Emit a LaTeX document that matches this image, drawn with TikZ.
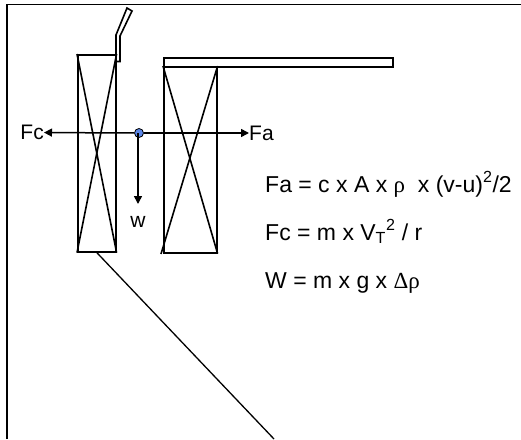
\documentclass[tikz,border=0pt]{standalone}
\usepackage{fontspec}
\setmainfont{Liberation Sans}
\newfontfamily\greekfont{Liberation Serif}
\usetikzlibrary{arrows.meta,positioning}
\definecolor{pblue}{HTML}{5B86E8}
\newcommand{\grk}[1]{{\greekfont#1}}
\tikzset{
  coil/.style={draw,line width=1.6pt,inner sep=0pt,anchor=north west},
  stroke/.style={line width=1.6pt},
  force/.style={line width=1.5pt,-{Triangle[length=8pt,width=8pt]}},
  label/.style={font=\fontsize{21}{24}\selectfont,inner sep=0pt},
  formula/.style={font=\fontsize{23}{26}\selectfont,inner sep=0pt,anchor=base west}
}
\begin{document}
\begin{tikzpicture}[x=1pt,y=-1pt]
  \useasboundingbox (0,0) rectangle (521,439);
  % frame
  \draw[stroke] (7,439) -- (7,4.5) -- (521,4.5);
  % coils
  \node[coil,minimum width=38pt,minimum height=197pt] (lcoil) at (77,54) {};
  \node[coil,minimum width=53pt,minimum height=186pt] (rcoil) at (163,66) {};
  \draw[stroke] (lcoil.north west) -- (lcoil.south east);
  \draw[stroke] (lcoil.north east) -- (lcoil.south west);
  \draw[stroke] (rcoil.north west) -- (rcoil.south east);
  \draw[stroke] (rcoil.north east) -- (161,254);
  % top bar and tube
  \node[coil,minimum width=229pt,minimum height=9pt] (bar) at (163,57) {};
  \draw[stroke] (116,61.5) -- (120,61.5) -- (120,36) -- (132,11) -- (127,8) -- (116,35) -- cycle;
  % tail
  \coordinate (tail) at (274,439);
  \draw[line width=1.3pt] (lcoil.south) -- (tail);
  % forces
  \node[circle,draw,line width=0.8pt,fill=pblue,minimum size=9pt,inner sep=0pt] (dot) at (139,133) {};
  \node[label,anchor=east] (fc) at (44,132.5) {Fc};
  \node[label,anchor=west] (fa) at (249,133) {Fa};
  \node[label,anchor=north,inner ysep=12pt] (w) at (138,204) {w};
  \draw[force] (dot) -- (fc);
  \draw[force] (dot) -- (fa);
  \draw[force] (138,133) -- (w);
  % formulas
  \node[formula] (eqa) at (265,192) {Fa = c x A x \grk{ρ}\ \ x (v-u)\textsuperscript{2}/2};
  \node[formula] (eqc) at (265,240) {Fc = m x V\textsubscript{T}\textsuperscript{2} / r};
  \node[formula] (eqw) at (265,288) {W = m x g x \grk{Δρ}};
\end{tikzpicture}
\end{document}
